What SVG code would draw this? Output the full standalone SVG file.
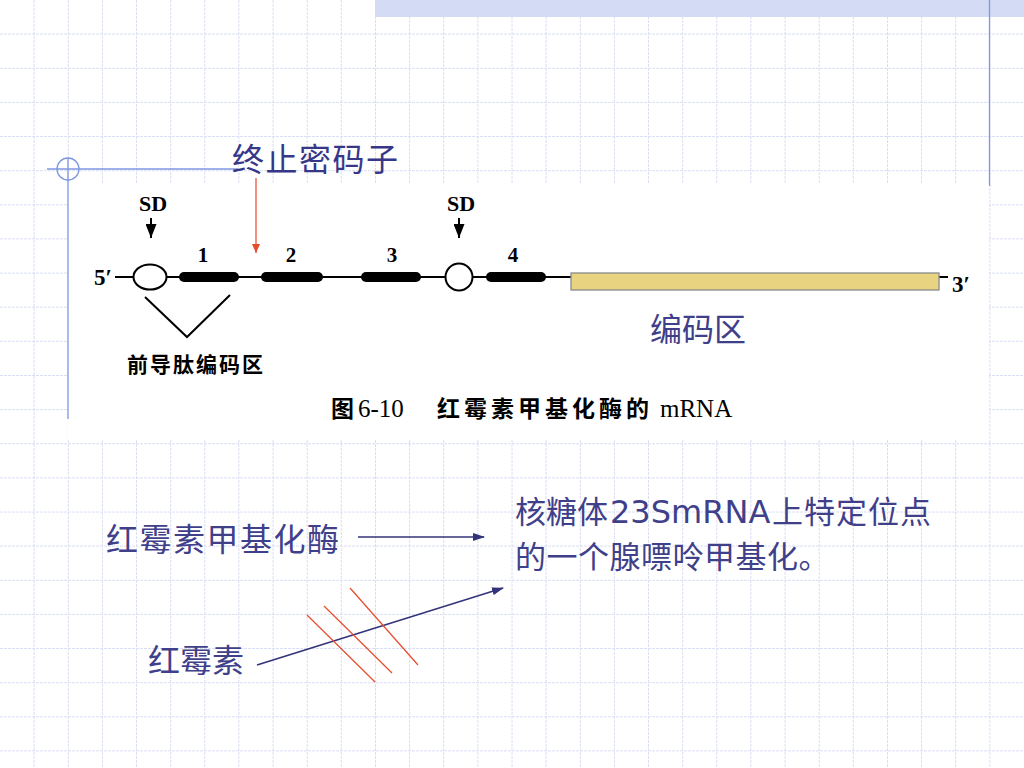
<svg xmlns="http://www.w3.org/2000/svg" width="1024" height="768" viewBox="0 0 1024 768">
<defs>
<style>
.grid{stroke:#dadff2;stroke-width:1;stroke-dasharray:3 1;fill:none}
.deco{stroke:#7f96e0;stroke-width:1.3;fill:none}
.cjk{font-family:"Noto Sans CJK SC","Noto Sans",sans-serif;fill:#40408a;font-size:32px}
.lat{font-family:"DejaVu Sans","Noto Sans CJK SC",sans-serif;fill:#40408a;font-size:32px}
.thin{stroke:#000;fill:none;stroke-width:2}
.bar{stroke:#000;stroke-width:10;stroke-linecap:round}
.sb{font-family:"Liberation Serif","Noto Sans CJK SC",serif;font-weight:bold;fill:#000}
.nav{stroke:#33337a;stroke-width:1.6;fill:none}
.red{stroke:#e84a2a;stroke-width:1.2}
</style>
<marker id="ah" markerWidth="12" markerHeight="8" refX="11" refY="4" orient="auto" markerUnits="userSpaceOnUse"><path d="M0,0 L12,4 L0,8 z" fill="#33337a"/></marker>
<marker id="ahb" markerWidth="11" markerHeight="14" refX="5.5" refY="14" orient="0" markerUnits="userSpaceOnUse"><path d="M0,0 L11,0 L5.5,14 z" fill="#000"/></marker>
<marker id="ahr" markerWidth="8" markerHeight="9" refX="4" refY="9" orient="0" markerUnits="userSpaceOnUse"><path d="M0,0 L8,0 L4,9 z" fill="#e84a2a"/></marker>
<clipPath id="clip3"><rect x="930" y="255" width="40" height="45"/></clipPath>
</defs>

<rect width="1024" height="768" fill="#fff"/>

<g id="grid">
<path class="grid" d="M34.1 0V768M68.3 0V768M102.4 0V768M136.5 0V768M170.7 0V768M204.8 0V768M238.9 0V768M273.1 0V768M307.2 0V768M341.3 0V768M375.5 0V768M409.6 0V768M443.7 0V768M477.9 0V768M512 0V768M546.1 0V768M580.3 0V768M614.4 0V768M648.5 0V768M682.7 0V768M716.8 0V768M750.9 0V768M785.1 0V768M819.2 0V768M853.3 0V768M887.5 0V768M921.6 0V768M955.7 0V768M989.9 0V768M0 34.1H1024M0 68.3H1024M0 102.4H1024M0 136.5H1024M0 170.7H1024M0 204.8H1024M0 238.9H1024M0 273.1H1024M0 307.2H1024M0 341.3H1024M0 375.5H1024M0 409.6H1024M0 443.7H1024M0 477.9H1024M0 512H1024M0 546.1H1024M0 580.3H1024M0 614.4H1024M0 648.5H1024M0 682.7H1024M0 716.8H1024M0 750.9H1024"/>
</g>

<g id="top-band">
<rect x="375" y="0" width="649" height="17" fill="#d3dcf4"/>
<line class="deco" x1="989.5" y1="0" x2="989.5" y2="186"/>
</g>

<g id="figure-bg">
<rect x="68" y="184" width="921" height="255" fill="#fff"/>
</g>

<g id="corner-deco">
<line class="deco" x1="47" y1="169" x2="238" y2="169"/>
<circle class="deco" cx="68" cy="169" r="11"/>
<line class="deco" x1="68" y1="158" x2="68" y2="419"/>
</g>

<g id="connectors">
<line class="thin" x1="115" y1="277" x2="571" y2="277"/>
<line class="thin" x1="939" y1="277" x2="948" y2="277"/>
<line class="thin" x1="151" y1="218" x2="151" y2="238" marker-end="url(#ahb)" stroke-width="2.5"/>
<line class="thin" x1="459" y1="218" x2="459" y2="238" marker-end="url(#ahb)" stroke-width="2.5"/>
<polyline class="thin" points="145,297 187,337 230,295"/>
<line class="red" x1="256" y1="178" x2="256" y2="253" marker-end="url(#ahr)"/>
<line class="nav" x1="358" y1="537" x2="484" y2="537" marker-end="url(#ah)"/>
<line class="nav" x1="257" y1="665" x2="503" y2="588" marker-end="url(#ah)"/>
<line class="red" x1="307" y1="615" x2="375" y2="682"/>
<line class="red" x1="324" y1="606" x2="392" y2="673"/>
<line class="red" x1="350" y1="588" x2="418" y2="665"/>
</g>

<g id="sd1">
<text class="sb" x="153" y="211" font-size="22" text-anchor="middle">SD</text>
<ellipse cx="150" cy="277" rx="16.5" ry="12.5" fill="#fff" stroke="#000" stroke-width="2"/>
</g>
<g id="sd2">
<text class="sb" x="461" y="211" font-size="22" text-anchor="middle">SD</text>
<circle cx="459" cy="277" r="13.5" fill="#fff" stroke="#000" stroke-width="2"/>
</g>
<g id="end5"><text class="sb" x="94" y="285" font-size="23">5′</text></g>
<g id="seg1"><line class="bar" x1="184" y1="277" x2="234" y2="277"/><text class="sb" x="203" y="262" font-size="21" text-anchor="middle">1</text></g>
<g id="seg2"><line class="bar" x1="266" y1="277" x2="318" y2="277"/><text class="sb" x="291" y="262" font-size="21" text-anchor="middle">2</text></g>
<g id="seg3"><line class="bar" x1="366" y1="277" x2="416" y2="277"/><text class="sb" x="392" y="262" font-size="21" text-anchor="middle">3</text></g>
<g id="seg4"><line class="bar" x1="491" y1="277" x2="541" y2="277"/><text class="sb" x="513" y="262" font-size="21" text-anchor="middle">4</text></g>
<g id="coding-box">
<rect x="571" y="273" width="368" height="17" fill="#e8d480" stroke="#8a8a8a" stroke-width="1.3"/>
</g>
<g id="end3" clip-path="url(#clip3)"><text class="sb" x="952" y="292" font-size="23">3′</text></g>

<g id="leader-label"><text class="sb" x="127" y="372" font-size="21" letter-spacing="2" style="font-family:'Noto Sans CJK SC',sans-serif">前导肽编码区</text></g>

<g id="caption">
<text x="331" y="417" font-size="23" font-weight="bold" fill="#000" style="font-family:'Noto Sans CJK SC',serif">图</text>
<text x="358" y="417" font-size="25" fill="#000" style="font-family:'Liberation Serif',serif">6-10</text>
<text x="437" y="417" font-size="23" font-weight="bold" fill="#000" letter-spacing="4" style="font-family:'Noto Sans CJK SC',serif">红霉素甲基化酶的</text>
<text x="660" y="417" font-size="25" fill="#000" style="font-family:'Liberation Serif',serif">mRNA</text>
</g>

<g id="stop-codon-label"><text class="cjk" x="232" y="171" letter-spacing="1.5" style="fill:#37378a">终止密码子</text></g>
<g id="coding-label"><text class="cjk" x="650" y="341">编码区</text></g>

<g id="enzyme"><text class="cjk" x="106" y="551" letter-spacing="1.5">红霉素甲基化酶</text></g>
<g id="erythromycin"><text class="cjk" x="148" y="672">红霉素</text></g>
<g id="methylation">
<text class="cjk" x="515" y="523" font-size="31" style="font-size:31px">核糖体</text>
<text class="lat" x="610" y="523">23SmRNA</text>
<text class="cjk" x="772" y="523" letter-spacing="1" style="font-size:31px">上特定位点</text>
<text class="cjk" x="515" y="568" letter-spacing="0.5" style="font-size:31px">的一个腺嘌呤甲基化。</text>
</g>
</svg>
